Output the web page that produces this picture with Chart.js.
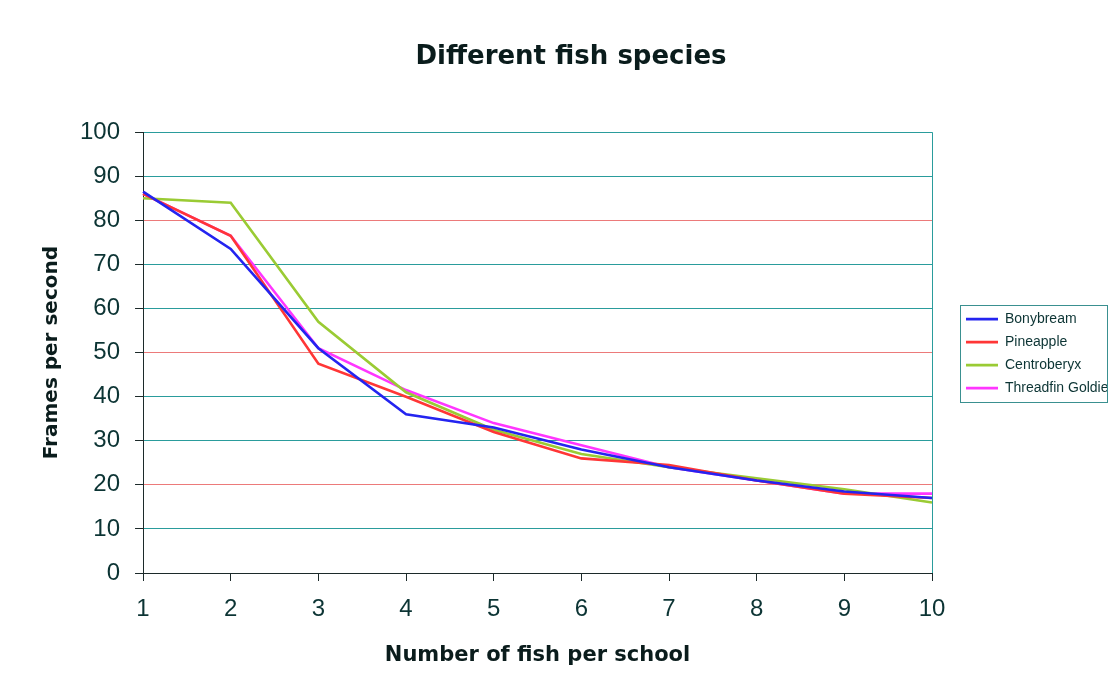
<!DOCTYPE html>
<html lang="en">
<head>
  <meta charset="UTF-8">
  <title>Different fish species</title>
  <script src="https://cdn.jsdelivr.net/npm/chart.js"></script>
  <style>
    html, body { margin: 0; padding: 0; background: #fff; }
    #wrap { width: 1108px; height: 684px; }
  </style>
</head>
<body>
  <div id="wrap"><canvas id="fishChart"></canvas></div>

  <script>
    // number of fish per school
    const schoolSizes = ["1", "2", "3", "4", "5", "6", "7", "8", "9", "10"];
    const yTicks = [0, 10, 20, 30, 40, 50, 60, 70, 80, 90, 100];

    // frames per second
    const bonybream   = [86.5, 73.5, 51, 36, 33, 28, 24, 21, 18.5, 17];
    const pineapple   = [86, 76.5, 47.5, 40, 32, 26, 24.5, 21, 18, 17];
    const centroberyx = [85, 84, 57, 41, 32.5, 27, 24, 21.5, 19, 16];
    const threadfin   = [86, 76.5, 51, 41.5, 34, 29, 24, 21, 18, 18];

    const textColor = "#0c3434";
    const titleColor = "#0a1c1c";
    const teal = "#2a9c9c";
    const redLine = "#ec7a7a";
    const axisColor = "#1c2a2a";

    const yGridColors = yTicks.map(v => [20, 50, 80].includes(v) ? redLine : teal);
    const xGridColors = schoolSizes.map((s, i) => i === 0 ? axisColor : (i === schoolSizes.length - 1 ? teal : "rgba(0,0,0,0)"));

    // keep the legend narrow on the right, middle of the plot, with a frame
    const legendBox = {
      id: "legendBox",
      beforeLayout(chart) {
        const lg = chart.legend;
        if (!lg || lg._wrapped) return;
        const fit = lg.fit.bind(lg);
        lg.fit = function () { fit(); this.width = 176; };
        lg._wrapped = true;
      },
      afterLayout(chart) {
        const lg = chart.legend;
        const area = chart.chartArea;
        lg.left += 25;
        lg.right += 25;
        lg.top = area.top + 1;
        lg.bottom = area.bottom + 1;
        lg.height = area.bottom - area.top;
      },
      afterDraw(chart) {
        const lg = chart.legend;
        const boxes = lg.legendHitBoxes;
        if (!boxes || !boxes.length) return;
        const top = boxes[0].top - 7;
        const last = boxes[boxes.length - 1];
        const bottom = last.top + last.height + 7;
        const ctx = chart.ctx;
        ctx.save();
        ctx.strokeStyle = "#3a9090";
        ctx.lineWidth = 1;
        ctx.strokeRect(960.5, Math.round(top) + 0.5, 147, Math.round(bottom - top));
        ctx.restore();
      }
    };

    const ctx = document.getElementById("fishChart").getContext("2d");
    new Chart(ctx, {
      type: "line",
      data: {
        labels: schoolSizes,
        datasets: [
          { label: "Bonybream", data: bonybream, borderColor: "#2424f0" },
          { label: "Pineapple", data: pineapple, borderColor: "#ff3636" },
          { label: "Centroberyx", data: centroberyx, borderColor: "#9acb34" },
          { label: "Threadfin Goldie", data: threadfin, borderColor: "#ff36ff" }
        ].map(d => Object.assign(d, { borderWidth: 2.6, pointRadius: 0, tension: 0, fill: false }))
      },
      plugins: [legendBox],
      options: {
        responsive: true,
        maintainAspectRatio: false,
        animation: false,
        layout: { padding: { left: 34, right: 0, top: 0, bottom: 12 } },
        plugins: {
          title: {
            display: true,
            text: "Different fish species",
            color: titleColor,
            font: { family: "DejaVu Sans", size: 26, weight: "bold" },
            padding: { top: 42, bottom: 59 }
          },
          legend: {
            position: "right",
            labels: {
              usePointStyle: true,
              pointStyle: "line",
              pointStyleWidth: 32,
              padding: 9,
              color: textColor,
              font: { family: "Liberation Sans, Arial", size: 14 }
            }
          },
          tooltip: { enabled: false }
        },
        scales: {
          x: {
            ticks: { color: textColor, font: { family: "Liberation Sans, Arial", size: 24 }, maxRotation: 0, padding: 14 },
            grid: {
              color: xGridColors,
              tickColor: axisColor,
              tickLength: 8,
              offset: false
            },
            border: { color: axisColor, width: 1 },
            title: {
              display: true,
              text: "Number of fish per school",
              color: titleColor,
              font: { family: "DejaVu Sans", size: 21, weight: "bold" },
              padding: { top: 5, bottom: 4 }
            }
          },
          y: {
            min: 0,
            max: 100,
            afterBuildTicks: axis => { axis.ticks = yTicks.map(v => ({ value: v })); },
            ticks: { color: textColor, font: { family: "Liberation Sans, Arial", size: 24 }, padding: 15 },
            grid: {
              color: yGridColors,
              tickColor: axisColor,
              tickLength: 8
            },
            border: { color: axisColor, width: 1 },
            title: {
              display: true,
              text: "Frames per second",
              color: titleColor,
              font: { family: "DejaVu Sans", size: 20, weight: "bold" },
              padding: { top: 6, bottom: 1 }
            }
          }
        }
      }
    });
  </script>
</body>
</html>
